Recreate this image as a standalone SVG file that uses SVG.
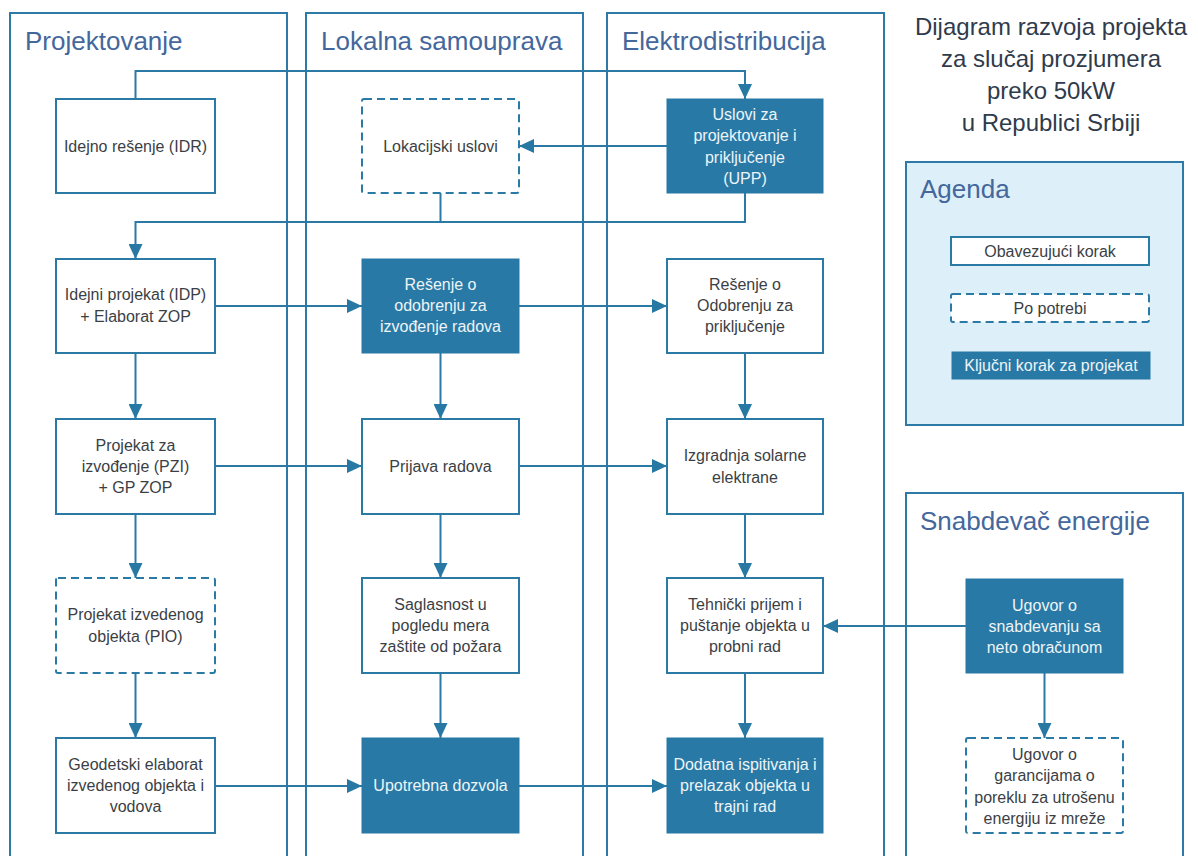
<svg xmlns="http://www.w3.org/2000/svg" width="1198" height="856" viewBox="0 0 1198 856">
  <style>
    .lane { fill: none; stroke: #2d7aa6; stroke-width: 2; }
    .lane-title { font-family: "Liberation Sans", Arial, sans-serif; font-size: 26px; fill: #44679c; }
    .title { font-family: "Liberation Sans", Arial, sans-serif; font-size: 24px; fill: #2f3b4c; text-anchor: middle; }
    .box { fill: #ffffff; stroke: #2b79a5; stroke-width: 2; }
    .box-dash { fill: #ffffff; stroke: #2b79a5; stroke-width: 2; stroke-dasharray: 8 5; }
    .box-key { fill: #2879a5; stroke: #2879a5; stroke-width: 1; }
    .txt { font-family: "Liberation Sans", Arial, sans-serif; font-size: 16px; fill: #3b3f45; text-anchor: middle; }
    .txt-key { font-family: "Liberation Sans", Arial, sans-serif; font-size: 16px; fill: #eef4f8; text-anchor: middle; }
    .conn { fill: none; stroke: #2b79a5; stroke-width: 2; }
    .arrow { marker-end: url(#arrowhead); }
  </style>
  <defs>
    <marker id="arrowhead" markerUnits="userSpaceOnUse" markerWidth="15" markerHeight="14" refX="15" refY="7" orient="auto">
      <path d="M0,0 L15,7 L0,14 Z" fill="#2878a4"/>
    </marker>
  </defs>

  <rect width="1198" height="856" fill="#ffffff"/>

  <!-- swimlanes -->
  <g id="lane-projektovanje">
    <rect class="lane" x="10" y="13" width="277" height="900"/>
    <text class="lane-title" x="25" y="50">Projektovanje</text>
  </g>
  <g id="lane-lokalna">
    <rect class="lane" x="306" y="13" width="277" height="900"/>
    <text class="lane-title" x="321" y="50">Lokalna samouprava</text>
  </g>
  <g id="lane-elektro">
    <rect class="lane" x="607" y="13" width="277" height="900"/>
    <text class="lane-title" x="622" y="50">Elektrodistribucija</text>
  </g>
  <g id="lane-snabdevac">
    <rect class="lane" x="906" y="493" width="277" height="420"/>
    <text class="lane-title" x="920" y="530">Snabdevač energije</text>
  </g>

  <!-- heading -->
  <g id="heading">
    <text class="title" x="1051" y="35">Dijagram razvoja projekta</text>
    <text class="title" x="1051" y="67">za slučaj prozjumera</text>
    <text class="title" x="1051" y="99">preko 50kW</text>
    <text class="title" x="1051" y="131">u Republici Srbiji</text>
  </g>

  <!-- legend -->
  <g id="agenda">
    <rect x="906" y="162" width="277" height="263" fill="#ddeff8" stroke="#2d7aa6" stroke-width="2"/>
    <text class="lane-title" x="920" y="198">Agenda</text>
    <rect class="box" x="951" y="237" width="198" height="28"/>
    <text class="txt" x="1050" y="256.5">Obavezujući korak</text>
    <rect class="box-dash" x="951" y="294" width="198" height="28" rx="2"/>
    <text class="txt" x="1050" y="313.5">Po potrebi</text>
    <rect class="box-key" x="952" y="352" width="198" height="27"/>
    <text class="txt-key" x="1051" y="371">Ključni korak za projekat</text>
  </g>

  <!-- connectors -->
  <g id="connectors">
    <path class="conn arrow" d="M135.5,99 V71 H745 V99"/>
    <path class="conn arrow" d="M667,146 H519"/>
    <path class="conn" d="M440.5,193 V222"/>
    <path class="conn arrow" d="M745,193 V222 H135.5 V259"/>
    <path class="conn arrow" d="M215,306 H362"/>
    <path class="conn arrow" d="M519,306 H667"/>
    <path class="conn arrow" d="M135.5,353 V419"/>
    <path class="conn arrow" d="M440.5,353 V419"/>
    <path class="conn arrow" d="M745,353 V419"/>
    <path class="conn arrow" d="M215,466 H362"/>
    <path class="conn arrow" d="M519,466 H667"/>
    <path class="conn arrow" d="M135.5,514 V578"/>
    <path class="conn arrow" d="M440.5,514 V578"/>
    <path class="conn arrow" d="M745,514 V578"/>
    <path class="conn arrow" d="M966,626 H823"/>
    <path class="conn arrow" d="M135.5,673 V738"/>
    <path class="conn arrow" d="M440.5,673 V738"/>
    <path class="conn arrow" d="M745,673 V738"/>
    <path class="conn arrow" d="M215,786 H362"/>
    <path class="conn arrow" d="M519,786 H667"/>
    <path class="conn arrow" d="M1044.5,673 V738"/>
  </g>

  <!-- Projektovanje -->
  <g id="idr">
    <rect class="box" x="56" y="99" width="159" height="94"/>
    <text class="txt" x="135.5" y="151.5">Idejno rešenje (IDR)</text>
  </g>
  <g id="idp">
    <rect class="box" x="56" y="259" width="159" height="94"/>
    <text class="txt" x="135.5" y="300.4">Idejni projekat (IDP)</text>
    <text class="txt" x="135.5" y="321.7">+ Elaborat ZOP</text>
  </g>
  <g id="pzi">
    <rect class="box" x="56" y="419" width="159" height="95"/>
    <text class="txt" x="135.5" y="450.7">Projekat za</text>
    <text class="txt" x="135.5" y="472">izvođenje (PZI)</text>
    <text class="txt" x="135.5" y="493.3">+ GP ZOP</text>
  </g>
  <g id="pio">
    <rect class="box-dash" x="56" y="578" width="159" height="95" rx="2"/>
    <text class="txt" x="135.5" y="620.4">Projekat izvedenog</text>
    <text class="txt" x="135.5" y="641.7">objekta (PIO)</text>
  </g>
  <g id="geodetski">
    <rect class="box" x="56" y="738" width="159" height="95"/>
    <text class="txt" x="135.5" y="769.7">Geodetski elaborat</text>
    <text class="txt" x="135.5" y="791">izvedenog objekta i</text>
    <text class="txt" x="135.5" y="812.3">vodova</text>
  </g>

  <!-- Lokalna samouprava -->
  <g id="lokacijski">
    <rect class="box-dash" x="362" y="99" width="157" height="94" rx="2"/>
    <text class="txt" x="440.5" y="151.5">Lokacijski uslovi</text>
  </g>
  <g id="resenje-izvodjenje">
    <rect class="box-key" x="362" y="259" width="157" height="94"/>
    <text class="txt-key" x="440.5" y="289.7">Rešenje o</text>
    <text class="txt-key" x="440.5" y="311">odobrenju za</text>
    <text class="txt-key" x="440.5" y="332.3">izvođenje radova</text>
  </g>
  <g id="prijava">
    <rect class="box" x="362" y="419" width="157" height="95"/>
    <text class="txt" x="440.5" y="472">Prijava radova</text>
  </g>
  <g id="saglasnost">
    <rect class="box" x="362" y="578" width="157" height="95"/>
    <text class="txt" x="440.5" y="609.7">Saglasnost u</text>
    <text class="txt" x="440.5" y="631">pogledu mera</text>
    <text class="txt" x="440.5" y="652.3">zaštite od požara</text>
  </g>
  <g id="upotrebna">
    <rect class="box-key" x="362" y="738" width="157" height="95"/>
    <text class="txt-key" x="440.5" y="791">Upotrebna dozvola</text>
  </g>

  <!-- Elektrodistribucija -->
  <g id="upp">
    <rect class="box-key" x="667" y="99" width="156" height="94"/>
    <text class="txt-key" x="745" y="120">Uslovi za</text>
    <text class="txt-key" x="745" y="141.3">projektovanje i</text>
    <text class="txt-key" x="745" y="162.6">priključenje</text>
    <text class="txt-key" x="745" y="184">(UPP)</text>
  </g>
  <g id="resenje-prikljucenje">
    <rect class="box" x="667" y="259" width="156" height="94"/>
    <text class="txt" x="745" y="289.7">Rešenje o</text>
    <text class="txt" x="745" y="311">Odobrenju za</text>
    <text class="txt" x="745" y="332.3">priključenje</text>
  </g>
  <g id="izgradnja">
    <rect class="box" x="667" y="419" width="156" height="95"/>
    <text class="txt" x="745" y="461.4">Izgradnja solarne</text>
    <text class="txt" x="745" y="482.7">elektrane</text>
  </g>
  <g id="tehnicki-prijem">
    <rect class="box" x="667" y="578" width="156" height="95"/>
    <text class="txt" x="745" y="609.7">Tehnički prijem i</text>
    <text class="txt" x="745" y="631">puštanje objekta u</text>
    <text class="txt" x="745" y="652.3">probni rad</text>
  </g>
  <g id="dodatna-ispitivanja">
    <rect class="box-key" x="667" y="738" width="156" height="95"/>
    <text class="txt-key" x="745" y="769.7">Dodatna ispitivanja i</text>
    <text class="txt-key" x="745" y="791">prelazak objekta u</text>
    <text class="txt-key" x="745" y="812.3">trajni rad</text>
  </g>

  <!-- Snabdevač energije -->
  <g id="ugovor-snabdevanje">
    <rect class="box-key" x="966" y="579" width="157" height="94"/>
    <text class="txt-key" x="1044.5" y="610.7">Ugovor o</text>
    <text class="txt-key" x="1044.5" y="632">snabdevanju sa</text>
    <text class="txt-key" x="1044.5" y="653.3">neto obračunom</text>
  </g>
  <g id="ugovor-garancije">
    <rect class="box-dash" x="966" y="738" width="157" height="95" rx="2"/>
    <text class="txt" x="1044.5" y="760">Ugovor o</text>
    <text class="txt" x="1044.5" y="781.3">garancijama o</text>
    <text class="txt" x="1044.5" y="802.6">poreklu za utrošenu</text>
    <text class="txt" x="1044.5" y="824">energiju iz mreže</text>
  </g>
</svg>
